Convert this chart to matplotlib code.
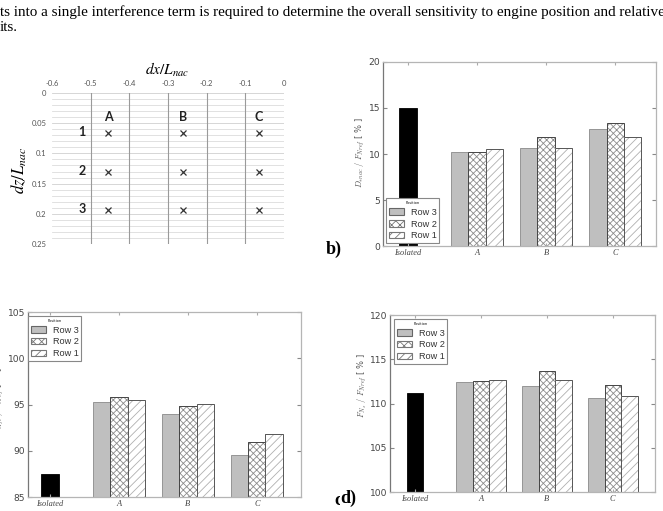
import numpy as np
import matplotlib
matplotlib.use("Agg")
import matplotlib.pyplot as plt
from matplotlib.patches import Patch, Rectangle

plt.rcParams['hatch.linewidth'] = 0.6

W, H = 663, 511

# ---------------- data ----------------
page_line1 = "ts into a single interference term is required to determine the overall sensitivity to engine position and relative"
page_line2 = "its."

# panel a: engine positions
dx_pos = [-0.455, -0.26, -0.065]
dz_pos = [0.066, 0.131, 0.194]
col_labels = ["A", "B", "C"]
row_labels = ["1", "2", "3"]
a_xticks = [-0.6, -0.5, -0.4, -0.3, -0.2, -0.1, 0.0]
a_xticklabels = ["-0.6", "-0.5", "-0.4", "-0.3", "-0.2", "-0.1", "0"]
a_yticks = [0.0, 0.05, 0.1, 0.15, 0.2, 0.25]
a_yticklabels = ["0", "0.05", "0.1", "0.15", "0.2", "0.25"]

categories = ["Isolated", "A", "B", "C"]
series_names = ["Row 3", "Row 2", "Row 1"]

b_iso = 15.0
b_row3 = [10.2, 10.6, 12.7]
b_row2 = [10.2, 11.8, 13.4]
b_row1 = [10.5, 10.7, 11.8]

c_iso = 87.5
c_row3 = [95.3, 94.0, 89.5]
c_row2 = [95.8, 94.8, 90.9]
c_row1 = [95.5, 95.1, 91.8]

d_iso = 111.2
d_row3 = [112.4, 112.0, 110.6]
d_row2 = [112.5, 113.7, 112.1]
d_row1 = [112.6, 112.6, 110.8]

# ---------------- figure ----------------
fig = plt.figure(figsize=(W / 100, H / 100), dpi=100)


def px_axes(x0, y0, x1, y1):
    return fig.add_axes([x0 / W, 1 - y1 / H, (x1 - x0) / W, (y1 - y0) / H])


def fx(x):
    return x / W


def fy(y):
    return 1 - y / H


# page text
fig.text(fx(0), fy(16), page_line1, family="Liberation Serif", fontsize=10.9,
         va="baseline", ha="left")
fig.text(fx(0), fy(31), page_line2, family="Liberation Serif", fontsize=10.9,
         va="baseline", ha="left")

# ---------------- panel a ----------------
axa = px_axes(52, 93, 284, 244)
axa.set_xlim(-0.6, 0.0)
axa.set_ylim(0.25, 0.0)
for s in axa.spines.values():
    s.set_visible(False)
axa.xaxis.tick_top()
axa.set_xticks(a_xticks)
axa.set_xticklabels(a_xticklabels)
axa.set_yticks(a_yticks)
axa.set_yticklabels(a_yticklabels)
axa.set_yticks(np.arange(0, 0.2501, 0.01), minor=True)
axa.tick_params(which="both", length=0, labelsize=5.5, labelcolor="#555", pad=4)
for lab in axa.get_xticklabels() + axa.get_yticklabels():
    lab.set_family("Lato")
axa.grid(True, which="minor", axis="y", color="#dcdcdc", lw=0.6)
axa.grid(True, which="major", axis="y", color="#d0d0d0", lw=0.6)
for xv in a_xticks[1:-1]:
    axa.axvline(xv, color="#9a9a9a", lw=0.8)
for yv in dz_pos:
    axa.plot(dx_pos, [yv] * len(dx_pos), linestyle="none", marker="x",
             ms=4.5, mew=0.9, color="#333")
for xv, lab in zip(dx_pos, col_labels):
    axa.text(xv, 0.04, lab, ha="center", va="center", fontsize=9,
             fontweight="bold", family="Lato", color="#222")
for yv, lab in zip(dz_pos, row_labels):
    axa.text(-0.522, yv - 0.002, lab, ha="center", va="center", fontsize=9,
             fontweight="bold", family="Lato", color="#222")
fig.text(fx(167), fy(70), r"$dx/L_{nac}$", ha="center", va="center",
         fontsize=11, math_fontfamily="stix")
fig.text(fx(19), fy(170), r"$dz/L_{nac}$", ha="center", va="center",
         fontsize=12, rotation=90, math_fontfamily="stix")


# ---------------- bar panels ----------------
def bar_panel(box, iso, r3, r2, r1, xlim, ylim, yticks, ylabel, ylab_xy,
              leg_loc, leg_anchor):
    ax = px_axes(*box)
    ax.bar(0, iso, 0.25, color="black", edgecolor="black", lw=0.6)
    pos = np.arange(1, 4)
    ax.bar(pos - 0.25, r3, 0.25, color="#bfbfbf", edgecolor="#8a8a8a", lw=0.6)
    ax.bar(pos, r2, 0.25, color="white", edgecolor="#8c8c8c", hatch="xxxxx", lw=0)
    ax.bar(pos, r2, 0.25, fill=False, edgecolor="#444", lw=0.7)
    ax.bar(pos + 0.25, r1, 0.25, color="white", edgecolor="#b0b0b0", hatch="////", lw=0)
    ax.bar(pos + 0.25, r1, 0.25, fill=False, edgecolor="#555", lw=0.7)
    ax.set_xlim(*xlim)
    ax.set_ylim(*ylim)
    ax.set_yticks(yticks)
    ax.set_xticks(np.arange(len(categories)))
    ax.set_xticklabels(categories, family="Liberation Serif", style="italic",
                       fontsize=6, color="#444")
    ax.tick_params(axis="y", labelsize=6.6, labelcolor="#444", direction="in",
                   length=3, color="#888", right=True, pad=2)
    ax.tick_params(axis="x", direction="in", length=2, color="#aaa", top=True, pad=2)
    for name, s in ax.spines.items():
        s.set_color("#b5b5b5")
        s.set_linewidth(0.9)
    ax.spines["left"].set_color("#777")
    ax.set_ylabel(ylabel, fontsize=6, color="#555", math_fontfamily="cm")
    ax.yaxis.set_label_coords(*ylab_xy)
    handles = [
        Patch(facecolor="#bfbfbf", edgecolor="#666", lw=0.8, label=series_names[0]),
        Patch(facecolor="white", edgecolor="#777", hatch="xxxx", lw=0.8, label=series_names[1]),
        Patch(facecolor="white", edgecolor="#777", hatch="////", lw=0.8, label=series_names[2]),
    ]
    leg = ax.legend(handles=handles, loc=leg_loc, bbox_to_anchor=leg_anchor,
                    borderaxespad=0, title="Position", title_fontsize=2.5,
                    prop={"family": "Liberation Sans", "size": 6.6},
                    fancybox=False, framealpha=1, edgecolor="#888",
                    handlelength=1.7, handleheight=0.75, labelspacing=0.3,
                    borderpad=0.3, handletextpad=0.7)
    leg.get_frame().set_linewidth(0.8)
    for t in leg.get_texts():
        t.set_color("#333")
    return ax


bar_panel((383, 62, 656, 246), b_iso, b_row3, b_row2, b_row1,
          (-0.36, 3.59), (0, 20), [0, 5, 10, 15, 20],
          r"$D_{*nac}\ /\ F_{Nref}$ [ % ]", (-0.058, 0.51),
          "lower left", (0.011, 0.016))

bar_panel((28, 312, 301, 497), c_iso, c_row3, c_row2, c_row1,
          (-0.32, 3.64), (85, 105), [85, 90, 95, 100, 105],
          r"$D_{Aft}\ /\ F_{Nref}$ [ % ]", (-0.08, 0.52),
          "upper left", (0.0, 0.978))

bar_panel((390, 315, 655, 492), d_iso, d_row3, d_row2, d_row1,
          (-0.38, 3.64), (100, 120), [100, 105, 110, 115, 120],
          r"$F_{N_x}\ /\ F_{Nref}$ [ % ]", (-0.078, 0.6),
          "upper left", (0.015, 0.977))

# panel labels
fig.text(fx(326), fy(249), "b)", family="Liberation Serif", fontweight="bold",
         fontsize=13, ha="left", va="center")
# partially hidden "c)" label (covered by the panel d area, as in the reference)
fig.text(fx(334), fy(500), "c)", family="Liberation Serif", fontweight="bold",
         fontsize=13, ha="left", va="center", zorder=1)
fig.patches.append(Rectangle((fx(340), 0), fx(14), fy(488), transform=fig.transFigure,
                             facecolor="white", edgecolor="none", zorder=2))
fig.text(fx(340), fy(498), "d)", family="Liberation Serif", fontweight="bold",
         fontsize=13, ha="left", va="center", zorder=3)

fig.savefig("out.png", dpi=100)
